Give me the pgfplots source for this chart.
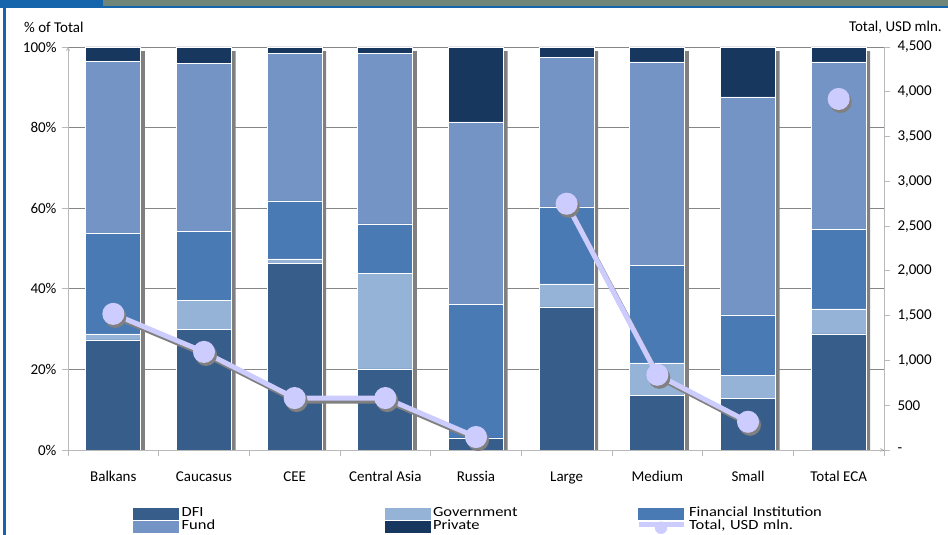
\documentclass[border=0pt]{standalone}
\usepackage{pgfplots}
\usepackage{pgfplotstable}
\pgfplotsset{compat=1.18}
\usepackage{fontspec}
\setmainfont{Carlito}
\newfontfamily\legfont[FakeStretch=1.18]{Carlito}

\definecolor{cDFI}{RGB}{55,93,138}
\definecolor{cGov}{RGB}{149,179,215}
\definecolor{cFI}{RGB}{74,122,180}
\definecolor{cFund}{RGB}{115,148,196}
\definecolor{cPriv}{RGB}{23,55,94}
\definecolor{cLine}{RGB}{204,204,255}
\definecolor{cShadow}{RGB}{128,128,128}
\definecolor{cGrid}{RGB}{134,134,134}
\definecolor{cAxis}{RGB}{185,185,185}
\definecolor{cBand}{RGB}{111,134,120}
\definecolor{cBlue}{RGB}{21,101,173}

\pgfplotstableread{
x DFI Gov FI Fund Priv
0 27.3 1.5 25.0 42.7 3.5
1 30.0 7.0 17.3 41.7 4.0
2 46.4 1.0 14.4 36.5 1.7
3 20.1 23.8 12.2 42.4 1.5
4 3.0 0.0 33.2 45.2 18.6
5 35.5 5.7 19.1 37.2 2.5
6 13.6 8.0 24.3 50.4 3.7
7 12.9 5.5 15.1 54.1 12.4
8 28.8 6.2 19.8 41.5 3.7
}\shares

\pgfplotstableread{
x sh
0 99
1 99
2 99
3 99
4 99
5 99
6 99
7 99
8 99
}\shadows

\pgfplotsset{
  base/.style={
    scale only axis, width=816pt, height=403pt,
    at={(68pt,85pt)}, anchor=south west,
    xmin=-0.5, xmax=8.5,
  },
  linestyle/.style={line width=5pt, mark=*, mark size=8.5pt,
    mark options={draw=none, fill=#1}, color=#1},
}

\begin{document}
\begin{tikzpicture}[x=1pt,y=1pt]
\path[use as bounding box] (0,0) rectangle (948,535);
% frame
\fill[cBand] (0,529) rectangle (948,535);
\fill[cBlue] (0,529) rectangle (103,535);
\fill[cBlue] (0,526.5) rectangle (948,529);
\fill[cBlue] (3,0) rectangle (5.5,529);

% axis with grid, ticks and shadows
\begin{axis}[base,
  ymin=0, ymax=100,
  axis lines=left,
  axis line style={cAxis, line width=0.8pt},
  ymajorgrids, major grid style={cGrid, line width=0.8pt},
  ytick={0,20,40,60,80,100},
  yticklabels={0\%,20\%,40\%,60\%,80\%,100\%},
  xtick={0,...,8},
  xticklabels={Balkans,Caucasus,CEE,Central Asia,Russia,Large,Medium,Small,Total ECA},
  major x tick style={draw=none},
  minor xtick={-0.5,0.5,...,8.5},
  minor x tick style={cAxis, line width=0.8pt},
  major y tick style={cAxis, line width=0.8pt},
  tick align=outside,
  major tick length=6pt, minor tick length=6pt,
  every tick label/.append style={font=\fontsize{15}{18}\selectfont, text=black},
  xticklabel style={yshift=-12pt},
  yticklabel style={xshift=-2pt},
  ybar, bar width=4pt, bar shift=29.5pt,
]
\addplot[fill=cShadow, draw=none] table[x=x, y=sh] {\shadows};
\end{axis}

% stacked bars
\begin{axis}[base,
  ymin=0, ymax=100, hide axis,
  ybar stacked, bar width=55pt,
]
\addplot[fill=cDFI, draw=white, line width=0.8pt] table[x=x, y=DFI] {\shares};
\addplot[fill=cGov, draw=white, line width=0.8pt] table[x=x, y=Gov] {\shares};
\addplot[fill=cFI, draw=white, line width=0.8pt] table[x=x, y=FI] {\shares};
\addplot[fill=cFund, draw=white, line width=0.8pt] table[x=x, y=Fund] {\shares};
\addplot[fill=cPriv, draw=white, line width=0.8pt] table[x=x, y=Priv] {\shares};
\end{axis}

% line axis (right)
\begin{axis}[base,
  ymin=0, ymax=4500,
  axis y line*=right, axis x line=none,
  axis line style={cAxis, line width=0.8pt},
  ytick={0,500,...,4500},
  yticklabels={-,500,{1,000},{1,500},{2,000},{2,500},{3,000},{3,500},{4,000},{4,500}},
  y tick style={cAxis, line width=0.8pt},
  tick align=outside, major tick length=6pt,
  every tick label/.append style={font=\fontsize{15}{18}\selectfont, text=black},
  yticklabel style={anchor=west, xshift=4pt},
  clip=false,
  legend columns=3,
  legend style={at={(0.0797,-0.1415)}, anchor=north west, draw=none, fill=none,
    inner sep=0pt, row sep=0pt, column sep=0pt,
    font=\legfont\fontsize{14}{12}\selectfont,
    nodes={inner xsep=3pt, inner ysep=0pt, text width=200pt, align=left, text height=9.5pt, text depth=3.5pt}},
]
\addlegendimage{legend image code/.code={\fill[cDFI] (0pt,-5pt) rectangle (45pt,5.5pt);}}
\addlegendentry{DFI}
\addlegendimage{legend image code/.code={\fill[cGov] (0pt,-5pt) rectangle (45pt,5.5pt);}}
\addlegendentry{Government}
\addlegendimage{legend image code/.code={\fill[cFI] (0pt,-5pt) rectangle (45pt,5.5pt);}}
\addlegendentry{Financial Institution}
\addlegendimage{legend image code/.code={\fill[cFund] (0pt,-5pt) rectangle (45pt,5.5pt);}}
\addlegendentry{Fund}
\addlegendimage{legend image code/.code={\fill[cPriv] (0pt,-5pt) rectangle (45pt,5.5pt);}}
\addlegendentry{Private}
\addlegendimage{legend image code/.code={\draw[cLine, line width=5pt] (0pt,2pt)--(45pt,2pt); \fill[cLine] (22.5pt,-1pt) circle (6pt);}}
\addlegendentry{Total, USD mln.}

% shadows of the line
\addplot[linestyle=cShadow, xshift=2pt, yshift=-3pt, forget plot] coordinates {(0,1520) (1,1095) (2,580) (3,580) (4,145)};
\addplot[linestyle=cShadow, xshift=2pt, yshift=-3pt, forget plot] coordinates {(5,2750) (6,840) (7,315)};
\addplot[linestyle=cShadow, xshift=2pt, yshift=-3pt, forget plot, only marks] coordinates {(8,3920)};
% line
\addplot[linestyle=cLine, forget plot] coordinates {(0,1520) (1,1095) (2,580) (3,580) (4,145)};
\addplot[linestyle=cLine, forget plot] coordinates {(5,2750) (6,840) (7,315)};
\addplot[linestyle=cLine, forget plot, only marks] coordinates {(8,3920)};
\end{axis}

\node[anchor=west, font=\fontsize{15}{18}\selectfont, inner sep=0pt] at (24,508) {\% of Total};
\node[anchor=east, font=\fontsize{15}{18}\selectfont, inner sep=0pt] at (942,508) {Total, USD mln.};
\end{tikzpicture}
\end{document}
